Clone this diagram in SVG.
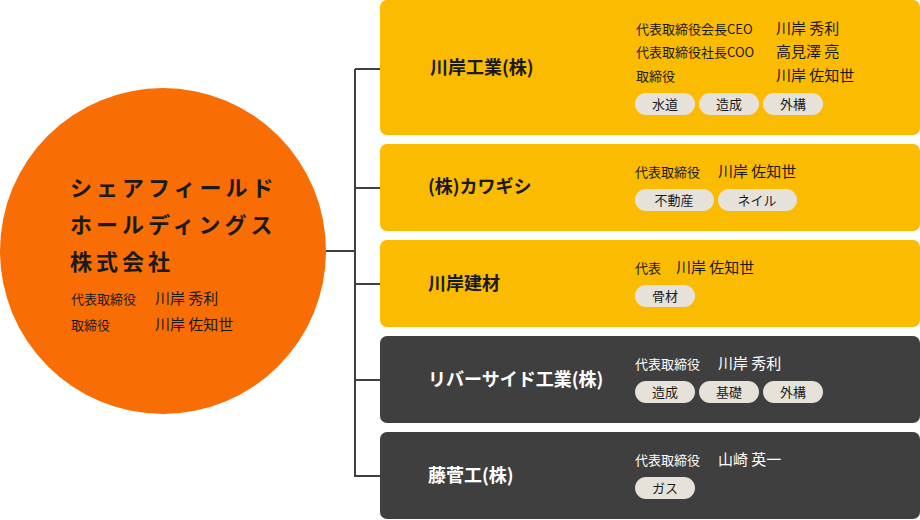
<svg xmlns="http://www.w3.org/2000/svg" width="920" height="520" viewBox="0 0 920 520">
<style>
text{font-family:"Noto Sans CJK JP","Noto Sans",sans-serif;fill:#1a1a1a}
.t{font-size:22px;font-weight:bold;letter-spacing:4px}
.s{font-size:13px}
.n{font-size:15px}
.h{font-size:18px;font-weight:bold}
.y{fill:#fabb00}
.d{fill:#3f3f3f}
.w{fill:#fff}
.tag{fill:#e6e2da}
.tg{font-size:13px;text-anchor:middle}
.ln{stroke:#3f3f3f;stroke-width:2;fill:none}
</style>
<g id="connectors">
<path class="ln" d="M326 251H355M355 69V477M355 69H380M355 188H380M355 284H380M355 380H380M355 476H380"/>
</g>
<g id="holding">
<circle cx="163" cy="251" r="163" fill="#f96d05"/>
<text class="t" x="70" y="196">シェアフィールド</text>
<text class="t" x="70" y="233">ホールディングス</text>
<text class="t" x="70" y="270">株式会社</text>
<text class="s" x="71" y="304">代表取締役</text><text class="n" x="155" y="304">川岸 秀利</text>
<text class="s" x="71" y="330">取締役</text><text class="n" x="155" y="330">川岸 佐知世</text>
</g>
<g id="c1">
<rect class="y" x="380" y="0" width="540" height="135" rx="7"/>
<text class="h" x="430" y="74">川岸工業(株)</text>
<text class="s" x="636" y="34">代表取締役会長CEO</text><text class="n" x="776" y="34">川岸 秀利</text>
<text class="s" x="636" y="57">代表取締役社長COO</text><text class="n" x="776" y="57">高見澤 亮</text>
<text class="s" x="636" y="81">取締役</text><text class="n" x="776" y="81">川岸 佐知世</text>
<rect class="tag" x="635" y="93" width="60" height="22" rx="11"/><text class="tg" x="665" y="109">水道</text>
<rect class="tag" x="699" y="93" width="60" height="22" rx="11"/><text class="tg" x="729" y="109">造成</text>
<rect class="tag" x="763" y="93" width="60" height="22" rx="11"/><text class="tg" x="793" y="109">外構</text>
</g>
<g id="c2">
<rect class="y" x="380" y="144" width="540" height="87" rx="7"/>
<text class="h" x="428" y="193">(株)カワギシ</text>
<text class="s" x="635" y="177">代表取締役</text><text class="n" x="718" y="177">川岸 佐知世</text>
<rect class="tag" x="635" y="189" width="79" height="22" rx="11"/><text class="tg" x="674" y="205">不動産</text>
<rect class="tag" x="718" y="189" width="79" height="22" rx="11"/><text class="tg" x="757" y="205">ネイル</text>
</g>
<g id="c3">
<rect class="y" x="380" y="240" width="540" height="87" rx="7"/>
<text class="h" x="428" y="290">川岸建材</text>
<text class="s" x="635" y="273">代表</text><text class="n" x="676" y="273">川岸 佐知世</text>
<rect class="tag" x="635" y="285" width="60" height="22" rx="11"/><text class="tg" x="665" y="301">骨材</text>
</g>
<g id="c4">
<rect class="d" x="380" y="336" width="540" height="87" rx="7"/>
<text class="h w" x="428" y="386">リバーサイド工業(株)</text>
<text class="s w" x="635" y="369">代表取締役</text><text class="n w" x="718" y="369">川岸 秀利</text>
<rect class="tag" x="635" y="381" width="60" height="22" rx="11"/><text class="tg" x="665" y="397">造成</text>
<rect class="tag" x="699" y="381" width="60" height="22" rx="11"/><text class="tg" x="729" y="397">基礎</text>
<rect class="tag" x="763" y="381" width="60" height="22" rx="11"/><text class="tg" x="793" y="397">外構</text>
</g>
<g id="c5">
<rect class="d" x="380" y="432" width="540" height="87" rx="7"/>
<text class="h w" x="428" y="482">藤菅工(株)</text>
<text class="s w" x="635" y="465">代表取締役</text><text class="n w" x="718" y="465">山崎 英一</text>
<rect class="tag" x="635" y="477" width="60" height="22" rx="11"/><text class="tg" x="665" y="493">ガス</text>
</g>
</svg>
